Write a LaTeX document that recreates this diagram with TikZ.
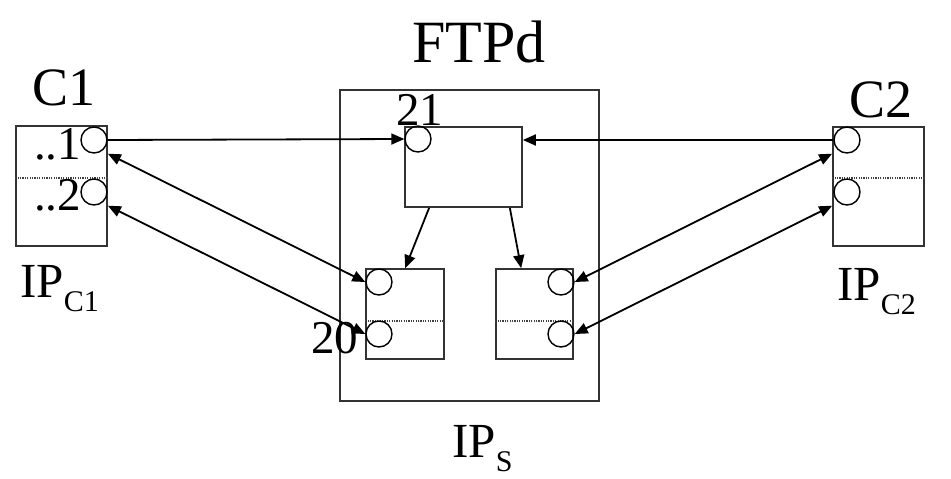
\documentclass[tikz,border=0pt]{standalone}
\usepackage{fontspec}
\setmainfont{Liberation Serif}
\usetikzlibrary{arrows.meta}

\newcommand{\fsz}[1]{\fontsize{#1}{#1}\selectfont}
\newcommand{\ipsub}[1]{\fsz{49}IP\lower14pt\hbox{\fsz{30}#1}}

\tikzset{
    box/.style={draw=black!80, line width=1.7pt, rectangle, inner sep=0},
    port/.style={draw, circle, line width=1.4pt, minimum size=26pt, inner sep=0},
    lbl/.style={anchor=base west, inner sep=0},
    link/.style={line width=1.8pt, -{Triangle[length=13pt,width=11pt]}},
    both/.style={line width=1.8pt, {Triangle[length=13pt,width=11pt]}-{Triangle[length=13pt,width=11pt]}},
    sep/.style={line width=1.2pt, black!75, dash pattern=on 1.2pt off 1.2pt}
}

\begin{document}
\begin{tikzpicture}[x=1pt, y=-1pt]
    \useasboundingbox (0,0) rectangle (951,479);

    % clients and server
    \node[box, minimum width=91pt, minimum height=120pt] (c1) at (61.5,186) {};
    \node[box, minimum width=91pt, minimum height=119pt] (c2) at (878.5,186.5) {};
    \node[box, minimum width=259pt, minimum height=311pt] (srv) at (469.5,245.5) {};
    \node[box, minimum width=117pt, minimum height=80pt] (ftp) at (463.5,167) {};
    \node[box, minimum width=78pt, minimum height=90pt] (ll) at (405,314) {};
    \node[box, minimum width=77pt, minimum height=90pt] (lr) at (534.5,314) {};

    \draw[sep] (c1.west |- 0,178) -- (c1.east |- 0,178);
    \draw[sep] (c2.west |- 0,178) -- (c2.east |- 0,178);
    \draw[sep] (ll.west |- 0,321) -- (ll.east |- 0,321);
    \draw[sep] (lr.west |- 0,321) -- (lr.east |- 0,321);

    % ports
    \node[port] (c1a) at (94,140) {};
    \node[port] (c1b) at (94,192) {};
    \node[port] (c2a) at (847,140) {};
    \node[port] (c2b) at (847,192) {};
    \node[port] (p21) at (418,139) {};
    \node[port] (la) at (379,282) {};
    \node[port] (lb) at (379,334) {};
    \node[port] (ra) at (561,282) {};
    \node[port] (rb) at (561,334) {};

    % labels
    \node[lbl] (tc1) at (32,105) {\fsz{54}C1};
    \node[lbl] (tc2) at (849,117) {\fsz{54}C2};
    \node[lbl] (tftp) at (412,62) {\fsz{60}FTPd};
    \node[lbl] (t1) at (34,159) {\fsz{47}..1};
    \node[lbl] (t2) at (34,210) {\fsz{47}..2};
    \node[lbl] (t21) at (396,125) {\fsz{47}21};
    \node[lbl] (t20) at (311,353) {\fsz{47}20};
    \node[lbl] (ipc1) at (20,297) {\ipsub{C1}};
    \node[lbl] (ipc2) at (837,300) {\ipsub{C2}};
    \node[lbl] (ips) at (452,457) {\ipsub{S}};

    % connections
    \draw[link] (c1a.east) -- (p21.west);
    \draw[link] (c2a.west) -- (c2a.west -| ftp.east);
    \draw[link] ([xshift=25]ftp.south west) -- ([xshift=40]ll.north west);
    \draw[link] ([xshift=-13]ftp.south east) -- ([xshift=26]lr.north west);
    \draw[both] (c1a.south -| c1.east) -- (la.west);
    \draw[both] (c1b.south -| c1.east) -- (lb.west);
    \draw[both] (c2a.south -| c2.west) -- (ra.east);
    \draw[both] (c2b.south -| c2.west) -- (rb.east);
\end{tikzpicture}
\end{document}
